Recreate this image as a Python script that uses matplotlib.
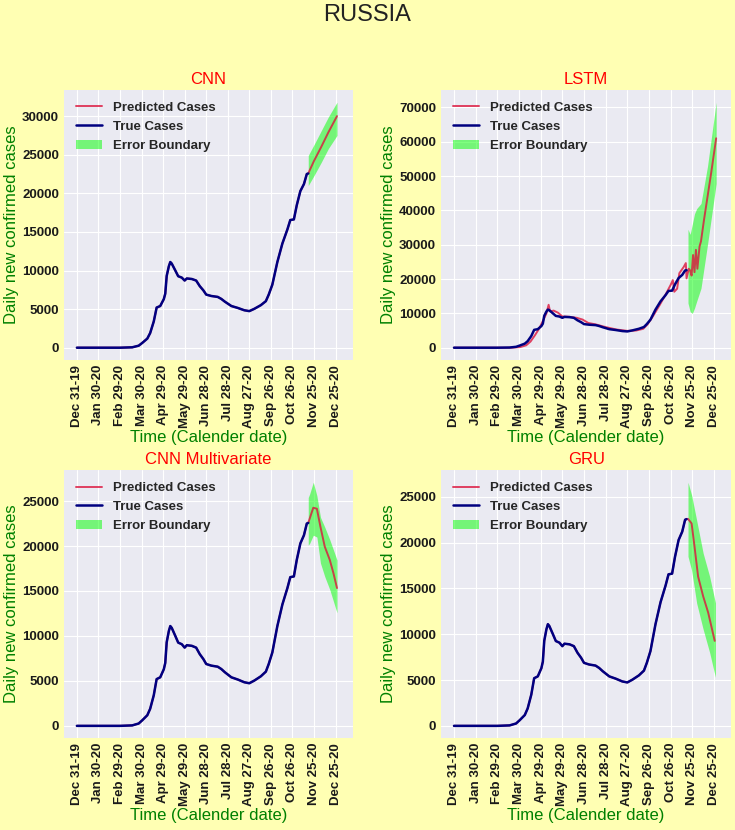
import matplotlib

matplotlib.use("Agg")
import matplotlib.dates as mdates  # noqa: E402
import matplotlib.pyplot as plt  # noqa: E402
import pandas as pd  # noqa: E402

# day offsets are counted from 2019-12-31
START = pd.Timestamp("2019-12-31")

TRUE_DAY = [0, 60, 77, 86, 91, 98, 102, 107, 109, 111, 116, 121, 123, 125, 128, 130,
            132, 137, 141, 146, 150, 153, 160, 166, 171, 176, 180, 187, 196, 201, 206,
            215, 224, 233, 240, 247, 256, 263, 267, 272, 279, 286, 293, 297, 302, 306,
            311, 316, 320, 322]
TRUE_CASES = [0, 0, 50, 260, 620, 1180, 1900, 3400, 4300, 5200, 5400, 6300, 7000, 9300,
              10550, 11100, 10900, 10000, 9260, 9080, 8700, 8970, 8900, 8700, 7980, 7430,
              6880, 6700, 6580, 6320, 5960, 5400, 5150, 4850, 4740, 5040, 5510, 6030, 6880,
              8160, 11100, 13500, 15330, 16540, 16620, 18450, 20290, 21200, 22500, 22570]

# CNN forecast
CNN_FC_DAY = [322, 330, 340, 350, 362]
CNN_FC = [22570, 24200, 26000, 27900, 30000]
CNN_BAND_DAY = [322, 330, 340, 350, 362]
CNN_LO = [21000, 22300, 24000, 25800, 27500]
CNN_HI = [24900, 26300, 28100, 29900, 31800]

# LSTM predictions (fit + forecast)
LSTM_DAY = [0, 80, 92, 100, 106, 112, 118, 124, 128, 131, 133, 138, 144, 150, 160, 170,
            178, 186, 196, 210, 225, 240, 252, 262, 268, 275, 285, 293, 300, 303, 305, 309,
            312, 318, 321, 322, 325, 327, 329, 331, 333, 335, 337, 340, 342, 346, 351, 356, 363]
LSTM_PRED = [0, 0, 200, 700, 1800, 3600, 5600, 8200, 10000, 12500, 10600, 10800, 10200,
             9100, 9000, 8700, 8200, 7200, 6800, 6000, 5300, 4900, 5000, 5500, 6800, 9000,
             12500, 15500, 18300, 19700, 16300, 17200, 21700, 23500, 24650, 20200, 23000,
             22500, 21000, 27000, 22000, 28500, 23000, 29500, 31000, 37000, 43900, 50800, 61000]
LSTM_BAND_DAY = [324, 327, 330, 333, 336, 342, 351, 363]
LSTM_LO = [13000, 10500, 10000, 11500, 13500, 17300, 30000, 47800]
LSTM_HI = [34500, 33000, 36000, 39000, 40500, 42000, 52800, 71500]

# CNN multivariate forecast
CNNM_FC_DAY = [322, 329, 334, 339, 345, 352, 357, 362]
CNNM_FC = [22570, 24260, 24150, 22130, 19930, 18450, 17000, 15330]
CNNM_BAND_DAY = [322, 324, 329, 334, 339, 345, 352, 362]
CNNM_LO = [20100, 20300, 21200, 21000, 18100, 16600, 15150, 12570]
CNNM_HI = [25400, 25800, 27100, 25600, 23200, 22100, 20700, 18450]

# GRU forecast
GRU_FC_DAY = [322, 324, 329, 333, 338, 345, 352, 361]
GRU_FC = [22570, 22600, 22100, 19600, 16300, 14150, 12350, 9280]
GRU_BAND_DAY = [324, 329, 336, 345, 354, 362]
GRU_LO = [18500, 17000, 13400, 10540, 8000, 5300]
GRU_HI = [26600, 25200, 22450, 18850, 16300, 13430]

TICK_DAYS = list(range(0, 361, 30))

BG = "#ffffb3"
FONT = "Liberation Sans"


def to_dates(days):
    return START + pd.to_timedelta(days, unit="D")


plt.style.use("seaborn-v0_8-darkgrid")
plt.rcParams["font.family"] = [FONT, "DejaVu Sans"]

fig = plt.figure(figsize=(7.35, 8.3), dpi=100)
fig.patch.set_facecolor(BG)
fig.text(0.5, 0.982, "RUSSIA", ha="center", va="center", fontsize=17, color="#222222")

panels = [
    ("CNN", [0.087, 0.5663, 0.393, 0.3253],
     TRUE_DAY + CNN_FC_DAY[1:], TRUE_CASES + CNN_FC[1:], CNN_BAND_DAY, CNN_LO, CNN_HI),
    ("LSTM", [0.600, 0.5663, 0.395, 0.3253],
     LSTM_DAY, LSTM_PRED, LSTM_BAND_DAY, LSTM_LO, LSTM_HI),
    ("CNN Multivariate", [0.087, 0.1108, 0.393, 0.3229],
     TRUE_DAY + CNNM_FC_DAY[1:], TRUE_CASES + CNNM_FC[1:], CNNM_BAND_DAY, CNNM_LO, CNNM_HI),
    ("GRU", [0.600, 0.1108, 0.395, 0.3229],
     TRUE_DAY + GRU_FC_DAY[1:], TRUE_CASES + GRU_FC[1:], GRU_BAND_DAY, GRU_LO, GRU_HI),
]

for title, rect, pday, pval, bday, lo, hi in panels:
    ax = fig.add_axes(rect)
    ax.plot(to_dates(pday), pval, color="crimson", lw=1.4, alpha=0.8,
            label="Predicted Cases", zorder=3)
    ax.plot(to_dates(TRUE_DAY), TRUE_CASES, color="navy", lw=1.8,
            label="True Cases", zorder=4)
    ax.fill_between(to_dates(bday), lo, hi, color="lime", alpha=0.5, lw=0,
                    label="Error Boundary", zorder=2)
    ax.set_xlim(to_dates([-18])[0], to_dates([384])[0])
    ax.set_xticks(to_dates(TICK_DAYS))
    ax.xaxis.set_major_formatter(mdates.DateFormatter("%b %d-%y"))
    ax.tick_params(axis="x", labelrotation=90)
    for lab in ax.get_xticklabels() + ax.get_yticklabels():
        lab.set_fontweight("bold")
        lab.set_fontsize(9.5)
        lab.set_color("#1a1a1a")
    ax.set_title(title, color="red", fontsize=12, pad=4)
    ax.set_ylabel("Daily new confirmed cases", color="green", fontsize=12, labelpad=2)
    ax.set_xlabel("Time (Calender date)", color="green", fontsize=12, labelpad=1)
    leg = ax.legend(loc="upper left", frameon=False, prop={"weight": "bold", "size": 9.5})
    for t in leg.get_texts():
        t.set_color("#262626")

fig.savefig("out.png", dpi=100, facecolor=BG)
